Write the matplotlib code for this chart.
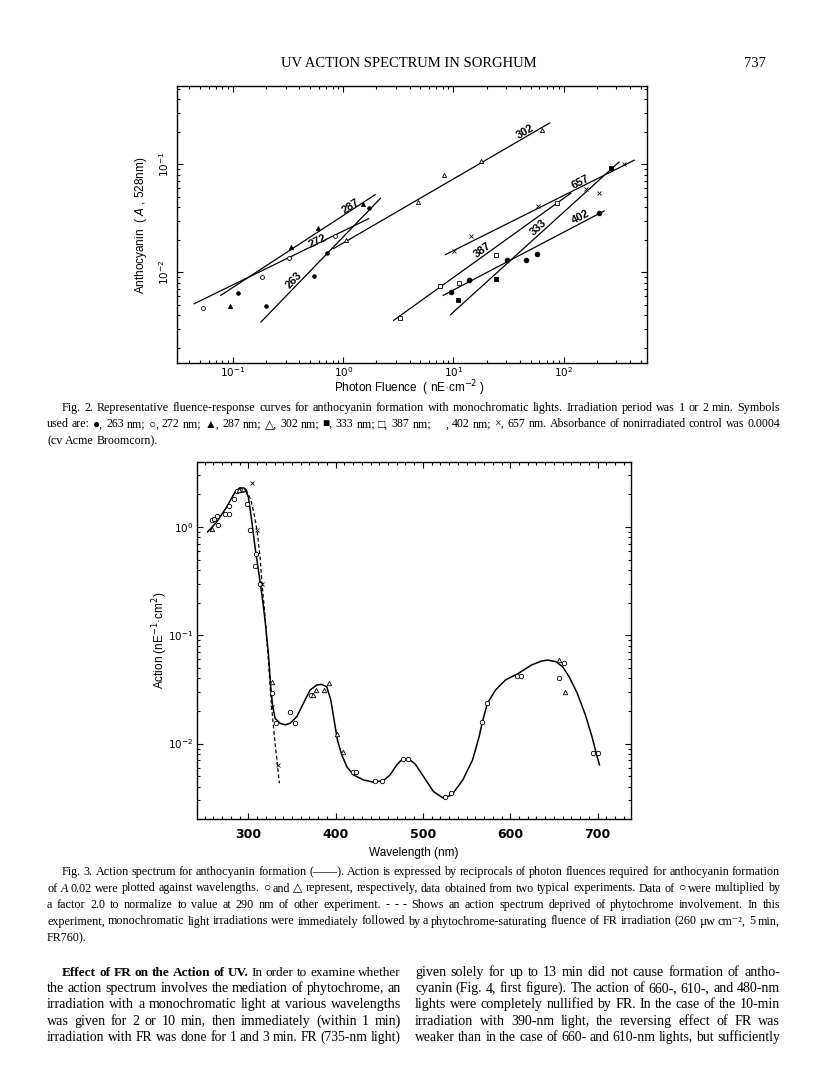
import numpy as np
import matplotlib
matplotlib.use("Agg")
import matplotlib.pyplot as plt
from matplotlib.ticker import LogLocator, MultipleLocator, NullFormatter

W, H = 816, 1073
SANS = ["Liberation Sans", "DejaVu Sans"]
SERIF = ["Liberation Serif", "DejaVu Serif", "DejaVu Sans"]

# ---- Fig. 2 : fluence-response (photon fluence nE cm-2, absorbance) ----
f263_x = [0.112, 0.2, 0.537, 0.711, 1.72]
f263_y = [0.00646, 0.0049, 0.0093, 0.0151, 0.0397]
f263_fit_x = [0.179, 2.17]
f263_fit_y = [0.00347, 0.0483]

f272_x = [0.0537, 0.182, 0.323, 0.834]
f272_y = [0.00471, 0.00906, 0.01355, 0.0219]
f272_fit_x = [0.0445, 1.70]
f272_fit_y = [0.00513, 0.0314]

f287_x = [0.094, 0.337, 0.589, 1.5]
f287_y = [0.0049, 0.0171, 0.0257, 0.0427]
f287_fit_x = [0.0773, 1.95]
f287_fit_y = [0.00612, 0.0524]

f302_x = [1.06, 4.74, 8.16, 17.9, 64.0]
f302_y = [0.02, 0.0445, 0.079, 0.108, 0.206]
f302_fit_x = [0.817, 74.6]
f302_fit_y = [0.0166, 0.241]

f333_x = [10.96, 24.4, 271.0]
f333_y = [0.00558, 0.0087, 0.093]
f333_fit_x = [9.4, 318.0]
f333_fit_y = [0.00406, 0.105]

f387_x = [3.3, 7.62, 11.3, 24.1, 87.6]
f387_y = [0.0038, 0.0074, 0.008, 0.0146, 0.0441]
f387_fit_x = [2.87, 116.0]
f387_fit_y = [0.0036, 0.054]

f402_x = [9.4, 13.8, 30.8, 45.8, 57.7, 207.0]
f402_y = [0.0066, 0.00843, 0.0129, 0.0131, 0.0147, 0.0357]
f402_fit_x = [8.06, 233.0]
f402_fit_y = [0.00612, 0.037]

f657_x = [10.2, 14.3, 58.9, 158.0, 207.0, 353.0]
f657_y = [0.0156, 0.0218, 0.0408, 0.0587, 0.0547, 0.1]
f657_fit_x = [8.46, 436.0]
f657_fit_y = [0.0146, 0.109]

# line labels: (text, x, y, angle)
fig2_labels = [("287", 1.16, 0.0408, 33), ("272", 0.589, 0.0194, 26),
               ("263", 0.359, 0.00843, 46), ("302", 45.2, 0.2, 30),
               ("657", 143.0, 0.0686, 27), ("387", 18.2, 0.016, 36),
               ("333", 59.6, 0.026, 43), ("402", 143.0, 0.0325, 28)]

# ---- Fig. 3 : action spectrum ----
curve_wl = [253.4, 263.7, 275.2, 284.7, 290.4, 296.2, 300.0, 303.8, 307.6, 311.5,
            315.3, 319.1, 322.9, 325.6, 327.9, 330.6, 336.3, 342.0, 347.8, 355.4,
            363.0, 370.7, 378.3, 384.0, 389.8, 394.4, 398.2, 402.0, 407.0, 412.7,
            420.3, 431.8, 443.3, 454.7, 462.4, 470.0, 476.5, 483.4, 491.0, 500.6,
            512.0, 523.5, 533.1, 545.7, 556.9, 564.4, 568.2, 573.8, 583.1, 594.4,
            609.4, 624.3, 635.6, 643.1, 652.4, 659.9, 667.4, 676.8, 686.1, 693.6,
            698.5, 702.2]
curve_act = [0.90, 1.11, 1.53, 2.10, 2.30, 2.26, 1.89, 1.15, 0.654, 0.40,
             0.243, 0.138, 0.068, 0.0335, 0.0219, 0.0171, 0.0154, 0.0149, 0.0154, 0.0177,
             0.0235, 0.0312, 0.0347, 0.0352, 0.0335, 0.0253, 0.0165, 0.0108, 0.00787, 0.00614,
             0.00514, 0.00462, 0.0044, 0.00456, 0.00514, 0.00636, 0.00718, 0.00723, 0.0065, 0.00497,
             0.00361, 0.00313, 0.00336, 0.00462, 0.00708, 0.0116, 0.016, 0.0235, 0.0312, 0.0386,
             0.0445, 0.0531, 0.0578, 0.059, 0.057, 0.0513, 0.0415, 0.0291, 0.0184, 0.0116,
             0.00815, 0.00636]

dash_wl = [297.3, 302.7, 306.5, 309.9, 313.4, 315.7, 319.5, 322.9, 326.7, 329.8, 332.9, 335.5]
dash_act = [2.21, 1.79, 1.33, 0.931, 0.529, 0.296, 0.138, 0.059, 0.0216, 0.0116, 0.00682, 0.0043]

circ_wl = [258.0, 261.0, 264.5, 264.9, 273.3, 278.2, 278.2, 284.0, 287.4, 290.4, 292.7,
           298.1, 301.9, 307.6, 308.8, 313.4, 326.7, 331.7, 347.8, 353.5, 371.4,
           420.3, 423.0, 445.2, 452.8, 476.9, 482.6, 525.4, 531.9,
           567.4, 573.0, 607.5, 612.4, 655.4, 661.8, 694.4, 700.4]
circ_act = [1.15, 1.18, 1.25, 1.04, 1.33, 1.33, 1.55, 1.82, 2.15, 2.18, 2.21,
            1.62, 0.931, 0.434, 0.568, 0.296, 0.0291, 0.0154, 0.0197, 0.0154, 0.0281,
            0.00544, 0.00544, 0.00447, 0.00447, 0.00718, 0.00718, 0.00318, 0.00348,
            0.0157, 0.0239, 0.042, 0.042, 0.04, 0.0558, 0.00826, 0.00815]

tri_wl = [258.8, 289.0, 293.5, 327.5, 373.7, 377.6, 386.7, 392.8, 401.2, 408.1, 655.4, 662.5]
tri_act = [0.95, 2.2, 2.22, 0.0373, 0.0281, 0.0312, 0.0312, 0.0365, 0.0123, 0.00838, 0.059, 0.0301]

x_wl = [303.8, 310.3, 315.3, 326.7, 334.4]
x_act = [2.55, 0.93, 0.296, 0.0216, 0.00636]

# ---- page text ----
fig2_caption = [
    "Fig. 2. Representative fluence-response curves for anthocyanin formation with monochromatic lights. Irradiation period was 1 or 2 min. Symbols",
    "used are: ●, 263 nm; ○, 272 nm; ▲, 287 nm; △, 302 nm; ■, 333 nm; □, 387 nm; \u00a0\u00a0\u00a0\u00a0, 402 nm; ×, 657 nm. Absorbance of nonirradiated control was 0.0004",
    "(cv Acme Broomcorn).",
]
fig3_caption = [
    "Fig. 3. Action spectrum for anthocyanin formation (——). Action is expressed by reciprocals of photon fluences required for anthocyanin formation",
    "of ~A 0.02 were plotted against wavelengths. ○ and △ represent, respectively, data obtained from two typical experiments. Data of ○ were multiplied by",
    "a factor 2.0 to normalize to value at 290 nm of other experiment. - - - Shows an action spectrum deprived of phytochrome involvement. In this",
    "experiment, monochromatic light irradiations were immediately followed by a phytochrome-saturating fluence of FR irradiation (260 µw cm⁻², 5 min,",
    "FR760).",
]
left_col = [
    "^Effect ^of ^FR ^on ^the ^Action ^of ^UV. In order to examine whether",
    "the action spectrum involves the mediation of phytochrome, an",
    "irradiation with a monochromatic light at various wavelengths",
    "was given for 2 or 10 min, then immediately (within 1 min)",
    "irradiation with FR was done for 1 and 3 min. FR (735-nm light)",
]
right_col = [
    "given solely for up to 13 min did not cause formation of antho-",
    "cyanin (Fig. 4, first figure). The action of 660-, 610-, and 480-nm",
    "lights were completely nullified by FR. In the case of the 10-min",
    "irradiation with 390-nm light, the reversing effect of FR was",
    "weaker than in the case of 660- and 610-nm lights, but sufficiently",
]


def make_words(fig, line, size):
    renderer = fig.canvas.get_renderer()
    texts, widths = [], []
    for word in line.split(" "):
        weight, style = "normal", "normal"
        if word.startswith("^"):
            word, weight = word[1:], "bold"
        if word.startswith("~"):
            word, style = word[1:], "italic"
        t = fig.text(0, 0, word, fontsize=size, family=SERIF,
                     fontweight=weight, fontstyle=style, va="baseline", ha="left")
        texts.append(t)
        widths.append(t.get_window_extent(renderer).width)
    return texts, widths


def fit_sizes(fig, lines, spans, s0=9.0):
    # per-line size that fits with normal spaces, capped at the block median
    ratios = []
    for line, span in zip(lines, spans):
        texts, widths = make_words(fig, line, s0)
        natural = sum(widths) + (len(texts) - 1) * s0 * 0.25 * fig.dpi / 72
        ratios.append(s0 * span / natural)
        for t in texts:
            t.remove()
    med = float(np.median(ratios))
    return [min(r, med) for r in ratios], med


def put_line(fig, line, x0, x1, y, size, justify=True):
    texts, widths = make_words(fig, line, size)
    gap = size * 0.25 * fig.dpi / 72
    if justify and len(texts) > 1:
        gap = (x1 - x0 - sum(widths)) / (len(texts) - 1)
    x = x0
    for t, w in zip(texts, widths):
        t.set_position((x / W, 1 - y / H))
        x += w + gap


fig = plt.figure(figsize=(W / 100, H / 100), dpi=100)

fig.text(409 / W, 1 - 67 / H, "UV ACTION SPECTRUM IN SORGHUM", family=SERIF,
         fontsize=10.5, ha="center", va="baseline")
fig.text(766 / W, 1 - 67 / H, "737", family=SERIF, fontsize=10.5, ha="right", va="baseline")

# ---- Fig. 2 axes ----
ax = fig.add_axes([177 / W, 1 - 363 / H, 470 / W, 277 / H])
ax.set_xscale("log")
ax.set_yscale("log")
ax.set_xlim(0.031, 570)
ax.set_ylim(0.00145, 0.53)

series2 = [
    (f263_x, f263_y, f263_fit_x, f263_fit_y, dict(marker="o", ms=2.6, mfc="k")),
    (f272_x, f272_y, f272_fit_x, f272_fit_y, dict(marker="o", ms=2.8, mfc="white")),
    (f287_x, f287_y, f287_fit_x, f287_fit_y, dict(marker="^", ms=3.0, mfc="k")),
    (f302_x, f302_y, f302_fit_x, f302_fit_y, dict(marker="^", ms=3.0, mfc="white")),
    (f333_x, f333_y, f333_fit_x, f333_fit_y, dict(marker="s", ms=2.6, mfc="k")),
    (f387_x, f387_y, f387_fit_x, f387_fit_y, dict(marker="s", ms=2.6, mfc="white")),
    (f402_x, f402_y, f402_fit_x, f402_fit_y, dict(marker="o", ms=3.4, mfc="k")),
    (f657_x, f657_y, f657_fit_x, f657_fit_y, dict(marker="x", ms=3.0, mfc="k")),
]
for px, py, lx, ly, mk in series2:
    ax.plot(lx, ly, "-", color="k", lw=0.9)
    ax.plot(px, py, ls="none", color="k", mec="k", mew=0.6, **mk)

for txt, lx, ly, ang in fig2_labels:
    ax.text(lx, ly, txt, rotation=ang, ha="center", va="center", fontsize=8,
            family=SANS, fontweight="bold", rotation_mode="anchor")

ax.xaxis.set_major_locator(LogLocator(base=10, numticks=10))
ax.xaxis.set_minor_locator(LogLocator(base=10, subs=np.arange(2, 10), numticks=20))
ax.yaxis.set_major_locator(LogLocator(base=10, numticks=10))
ax.yaxis.set_minor_locator(LogLocator(base=10, subs=np.arange(2, 10), numticks=20))
ax.xaxis.set_minor_formatter(NullFormatter())
ax.yaxis.set_minor_formatter(NullFormatter())
ax.tick_params(which="both", direction="in", top=True, right=True, width=0.8)
ax.tick_params(which="major", length=4, labelsize=7.5, pad=1.5)
ax.tick_params(which="minor", length=2)
ax.tick_params(axis="y", labelrotation=90, pad=4)
for lab in ax.get_yticklabels():
    lab.set_va("center")
for sp in ax.spines.values():
    sp.set_linewidth(1.0)
fig.text(410 / W, 1 - 388 / H, "Photon Fluence  ( nE·cm$^{-2}$ )", fontsize=8.5,
         family=SANS, ha="center", va="center")
fig.text(141 / W, 1 - 225 / H, "Anthocyanin  ( $A$ , 528nm)", fontsize=8.5,
         family=SANS, ha="center", va="center", rotation=90)

sizes, _ = fit_sizes(fig, fig2_caption[:2], [718, 733])
sizes.append(sizes[-1])
for i, line in enumerate(fig2_caption):
    x0 = 62 if i == 0 else 47
    put_line(fig, line, x0, 780, 411 + 16.5 * i, sizes[i], justify=(i < len(fig2_caption) - 1))

# ---- Fig. 3 axes ----
ax3 = fig.add_axes([197.3 / W, 1 - 819.3 / H, 433.4 / W, 357.6 / H])
ax3.set_yscale("log")
ax3.set_xlim(241.5, 738)
ax3.set_ylim(0.002, 4.0)
ax3.plot(curve_wl, curve_act, "-", color="k", lw=1.1)
ax3.plot(dash_wl, dash_act, "--", color="k", lw=0.9, dashes=(3, 2))
ax3.plot(circ_wl, circ_act, ls="none", marker="o", ms=3.2, mfc="white", mec="k", mew=0.6)
ax3.plot(tri_wl, tri_act, ls="none", marker="^", ms=3.2, mfc="white", mec="k", mew=0.6)
ax3.plot(x_wl, x_act, ls="none", marker="x", ms=3.0, color="k", mew=0.6)

ax3.xaxis.set_major_locator(MultipleLocator(100))
ax3.xaxis.set_minor_locator(MultipleLocator(10))
ax3.yaxis.set_major_locator(LogLocator(base=10, numticks=10))
ax3.yaxis.set_minor_locator(LogLocator(base=10, subs=np.arange(2, 10), numticks=20))
ax3.yaxis.set_minor_formatter(NullFormatter())
ax3.tick_params(which="both", direction="in", top=True, right=True, width=0.8)
ax3.tick_params(which="major", length=4, labelsize=9, pad=6)
ax3.tick_params(axis="y", labelsize=7.5, pad=3)
ax3.tick_params(which="minor", length=2)
for lab in ax3.get_xticklabels():
    lab.set_fontweight("bold")
for sp in ax3.spines.values():
    sp.set_linewidth(1.0)
fig.text(414 / W, 1 - 853 / H, "Wavelength (nm)", fontsize=8.5, family=SANS,
         ha="center", va="center")
fig.text(160 / W, 1 - 640 / H, "Action (nE$^{-1}$·cm$^{2}$)", fontsize=8.5, family=SANS,
         ha="center", va="center", rotation=90)

sizes, _ = fit_sizes(fig, fig3_caption[:4], [718, 733, 733, 733])
sizes.append(sizes[-1])
for i, line in enumerate(fig3_caption):
    x0 = 62 if i == 0 else 47
    put_line(fig, line, x0, 780, 875 + 16.5 * i, sizes[i], justify=(i < len(fig3_caption) - 1))

body_spans = [339] + [354] * 4 + [365] * 5
sizes, _ = fit_sizes(fig, left_col + right_col, body_spans, s0=10.0)
for i, line in enumerate(left_col):
    x0 = 62 if i == 0 else 47
    put_line(fig, line, x0, 401, 976 + 16.2 * i, sizes[i])
for i, line in enumerate(right_col):
    put_line(fig, line, 415, 780, 976 + 16.2 * i, sizes[5 + i])

fig.savefig("out.png", dpi=100)
